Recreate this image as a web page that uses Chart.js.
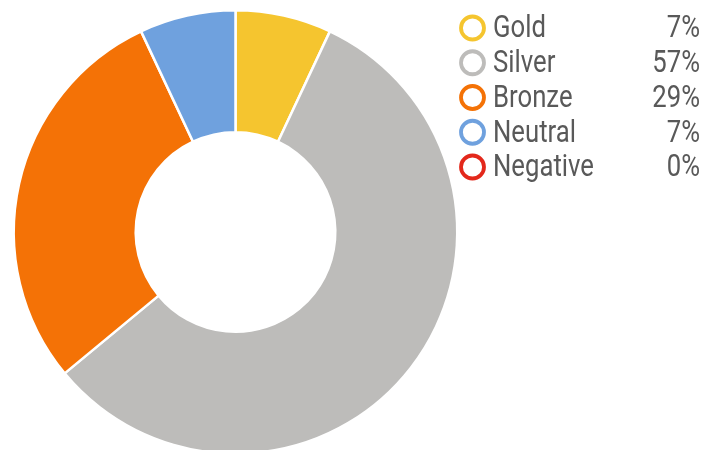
<!DOCTYPE html>
<html>
<head>
<meta charset="utf-8">
<script src="https://cdn.jsdelivr.net/npm/chart.js@4/dist/chart.umd.min.js"></script>
<style>
  html, body { margin: 0; padding: 0; background: #fff; overflow: hidden; }
  #wrap { width: 717px; height: 470px; }
</style>
</head>
<body>
<div id="wrap"><canvas id="medalChart"></canvas></div>
<script>
// Daten
const labels = ['Gold', 'Silver', 'Bronze', 'Neutral', 'Negative'];
const values = [7, 57, 29, 7, 0];
const percentLabels = ['7%', '57%', '29%', '7%', '0%'];
const colors = ['#F5C52F', '#BDBCBA', '#F47206', '#6FA1DE', '#E3281B'];

const legendFont = '400 31px Roboto, "Liberation Sans", sans-serif';

// eigene Legende rechts (schmal gestauchte Schrift)
const sideLegend = {
  id: 'sideLegend',
  afterDraw(chart) {
    const c = chart.ctx;
    c.save();
    c.font = legendFont;
    c.textBaseline = 'middle';
    const sx = 101 / c.measureText('Negative').width;
    labels.forEach((lab, i) => {
      const y = 28 + i * 34.75;
      c.beginPath();
      c.arc(472.5, y, 11.5, 0, Math.PI * 2);
      c.lineWidth = 3.8;
      c.strokeStyle = colors[i];
      c.stroke();
      c.fillStyle = '#595959';
      c.save();
      c.translate(493, y + 1.5);
      c.scale(sx, 1);
      c.textAlign = 'left';
      c.fillText(lab, 0, 0);
      c.restore();
      c.save();
      c.translate(700, y + 1.5);
      c.scale(sx, 1);
      c.textAlign = 'right';
      c.fillText(percentLabels[i], 0, 0);
      c.restore();
    });
    c.restore();
  }
};

const ctx = document.getElementById('medalChart').getContext('2d');
const medalChart = new Chart(ctx, {
  type: 'doughnut',
  data: {
    labels: labels,
    datasets: [{
      data: values,
      backgroundColor: colors,
      borderColor: '#ffffff',
      borderWidth: 2.5
    }]
  },
  options: {
    responsive: true,
    maintainAspectRatio: false,
    animation: false,
    cutout: '45%',
    layout: {
      padding: { top: 9, bottom: 15, left: 12.5, right: 258.5 }
    },
    plugins: {
      legend: { display: false },
      tooltip: { enabled: false }
    }
  },
  plugins: [sideLegend]
});
</script>
</body>
</html>
